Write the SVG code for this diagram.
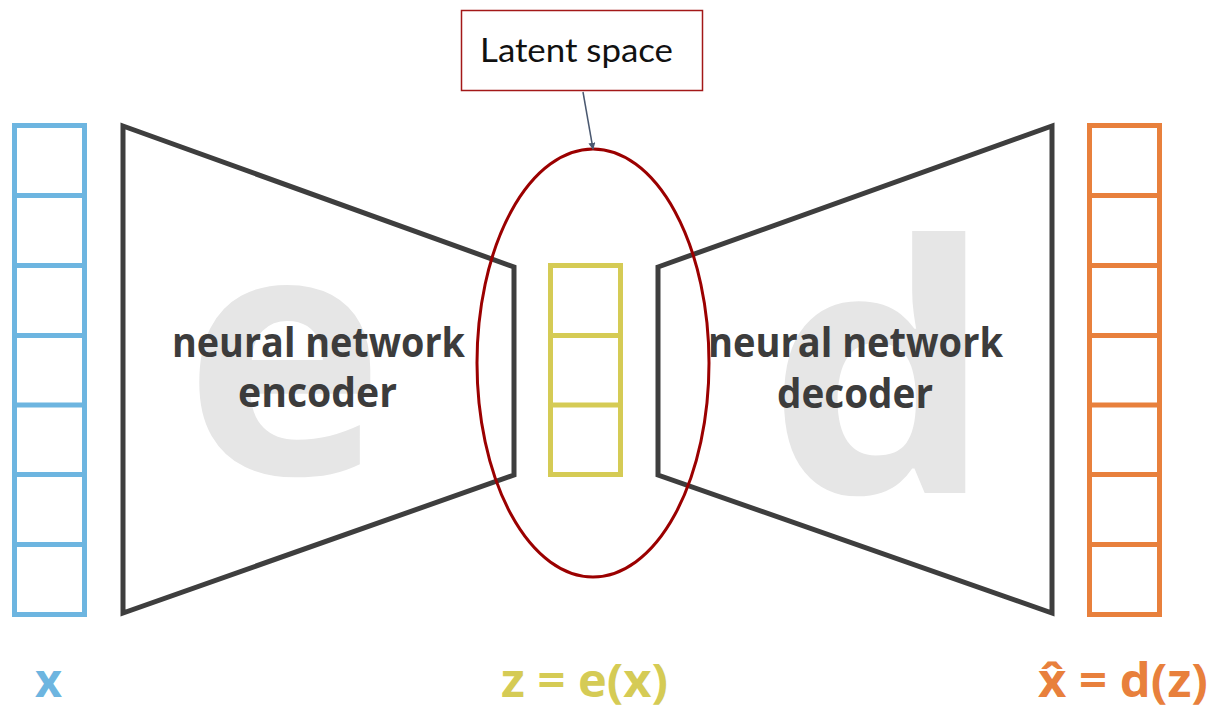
<svg xmlns="http://www.w3.org/2000/svg" width="1211" height="709" viewBox="0 0 1211 709">
  <defs>
    <style>
      .bg { fill: #ffffff; }
      .big { font-family: "Open Sans", "DejaVu Sans", sans-serif; font-weight: 700; fill: #e6e6e6; }
      .net { fill: none; stroke: #3e3e3e; stroke-width: 5; stroke-linejoin: miter; }
      .lbl { font-family: "Open Sans", "DejaVu Sans", sans-serif; font-weight: 700; font-size: 42px; fill: #3c3c3c; text-anchor: middle; }
      .vec-x { fill: none; stroke: #6db5e0; stroke-width: 5; }
      .vec-z { fill: none; stroke: #d5cb55; stroke-width: 5; }
      .vec-xh { fill: none; stroke: #e8803c; stroke-width: 5; }
      .eq { font-family: "Open Sans", "DejaVu Sans", sans-serif; font-weight: 700; font-size: 46px; }
      .note { font-family: "Lato", "Liberation Sans", sans-serif; font-size: 32px; fill: #111111; }
    </style>
    <marker id="arrow" viewBox="0 0 10 10" refX="9" refY="5" markerWidth="7" markerHeight="7" orient="auto" markerUnits="userSpaceOnUse">
      <path d="M0,0 L10,5 L0,10 z" fill="#4a5870"/>
    </marker>
  </defs>

  <rect class="bg" x="0" y="0" width="1211" height="709"/>

  <!-- input vector x -->
  <g id="input-x">
    <rect class="vec-x" x="14.5" y="125.5" width="70" height="489"/>
    <path class="vec-x" d="M14.5 195.5H84.5 M14.5 265.5H84.5 M14.5 335.5H84.5 M14.5 405H84.5 M14.5 474.5H84.5 M14.5 544.5H84.5"/>
  </g>

  <!-- encoder -->
  <g id="encoder">
    <text class="big" x="184" y="474" font-size="340">e</text>
    <polygon class="net" points="123,126 514,267 514,475 123,613"/>
    <text class="lbl" x="318.5" y="357" textLength="293" lengthAdjust="spacingAndGlyphs">neural network</text>
    <text class="lbl" x="317.5" y="407" textLength="159" lengthAdjust="spacingAndGlyphs">encoder</text>
  </g>

  <!-- latent code z -->
  <g id="latent-z">
    <rect class="vec-z" x="550.5" y="265.5" width="70" height="209"/>
    <path class="vec-z" d="M550.5 335.5H620.5 M550.5 405H620.5"/>
  </g>

  <!-- decoder -->
  <g id="decoder">
    <text class="big" transform="translate(768 493) scale(1.03 1)" x="0" y="0" font-size="345">d</text>
    <polygon class="net" points="658,267 1052,126 1052,613 658,475"/>
    <text class="lbl" x="855.5" y="357" textLength="295" lengthAdjust="spacingAndGlyphs">neural network</text>
    <text class="lbl" x="855" y="408" textLength="156" lengthAdjust="spacingAndGlyphs">decoder</text>
  </g>

  <!-- reconstruction x-hat -->
  <g id="output-xhat">
    <rect class="vec-xh" x="1089.5" y="125.5" width="70" height="489"/>
    <path class="vec-xh" d="M1089.5 195.5H1159.5 M1089.5 265.5H1159.5 M1089.5 335.5H1159.5 M1089.5 405H1159.5 M1089.5 474.5H1159.5 M1089.5 544.5H1159.5"/>
  </g>

  <!-- latent space highlight -->
  <g id="latent-space">
    <ellipse cx="593" cy="363" rx="116" ry="214" fill="none" stroke="#9b0000" stroke-width="3"/>
  </g>

  <g id="latent-note">
    <rect x="461.5" y="10.5" width="241" height="80" fill="#ffffff" stroke="#a31818" stroke-width="1.5"/>
    <text class="note" x="480" y="62" textLength="193" lengthAdjust="spacingAndGlyphs">Latent space</text>
  </g>

  <!-- connectors -->
  <g id="connectors">
    <line x1="583" y1="92" x2="593" y2="149" stroke="#4a5870" stroke-width="1.5" marker-end="url(#arrow)"/>
  </g>

  <!-- symbols -->
  <g id="labels">
    <text class="eq" x="35" y="697" fill="#6db5e0" textLength="27" lengthAdjust="spacingAndGlyphs">x</text>
    <text class="eq" x="501" y="697" fill="#d5cb55" textLength="167" lengthAdjust="spacingAndGlyphs">z = e(x)</text>
    <text class="eq" x="1038" y="697" fill="#e8803c" textLength="170" lengthAdjust="spacingAndGlyphs">x̂ = d(z)</text>
  </g>
</svg>
